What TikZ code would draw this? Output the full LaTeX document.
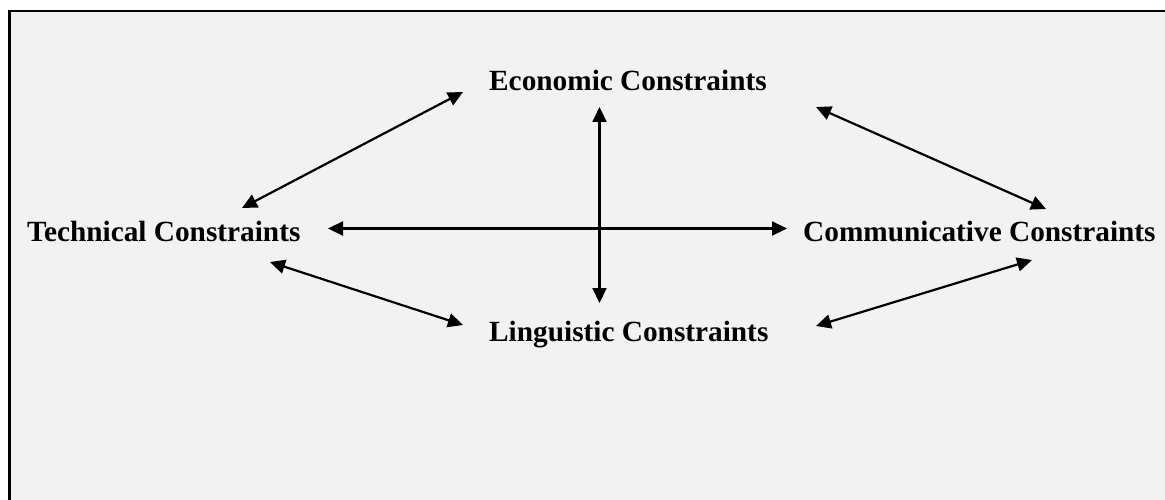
\documentclass[tikz,border=0pt]{standalone}
\usepackage{fontspec}
\setmainfont{Liberation Serif}
\usetikzlibrary{arrows.meta}
\definecolor{bggray}{HTML}{F2F2F2}
\tikzset{
  lbl/.style={anchor=base west, inner sep=0pt, font=\fontsize{29.3}{32}\selectfont\bfseries},
  link/.style={line width=2.2pt, {Triangle[length=15pt,width=14pt]}-{Triangle[length=15pt,width=14pt]}}
}
\begin{document}
\begin{tikzpicture}[x=1pt,y=-1pt]
\useasboundingbox (0,0) rectangle (1165,500);
\fill[white] (0,0) rectangle (1165,500);
\fill[bggray] (9.5,11) rectangle (1165,500);
\draw[line width=2.8pt] (9.5,500) -- (9.5,11) -- (1165,11);

\node[lbl] (econ) at (489,90.5) {Economic Constraints};
\node[lbl] (tech) at (27,241) {Technical Constraints};
\node[lbl] (comm) at (803,241) {Communicative Constraints};
\node[lbl] (ling) at (489,341.5) {Linguistic Constraints};

\coordinate (te1) at (242,208);
\coordinate (te2) at (463,92);
\coordinate (ec1) at (816,107);
\coordinate (ec2) at (1046,209);
\coordinate (tc1) at (328,228.5);
\coordinate (tc2) at (787,228.5);
\coordinate (el1) at (599.5,107);
\coordinate (el2) at (599.5,303);
\coordinate (tl1) at (270,262);
\coordinate (tl2) at (463,325);
\coordinate (lc1) at (816,326);
\coordinate (lc2) at (1032,260);

\draw[link] (te1) -- (te2);
\draw[link] (ec1) -- (ec2);
\draw[link] (tc1) -- (tc2);
\draw[link] (el1) -- (el2);
\draw[link] (tl1) -- (tl2);
\draw[link] (lc1) -- (lc2);
\end{tikzpicture}
\end{document}
